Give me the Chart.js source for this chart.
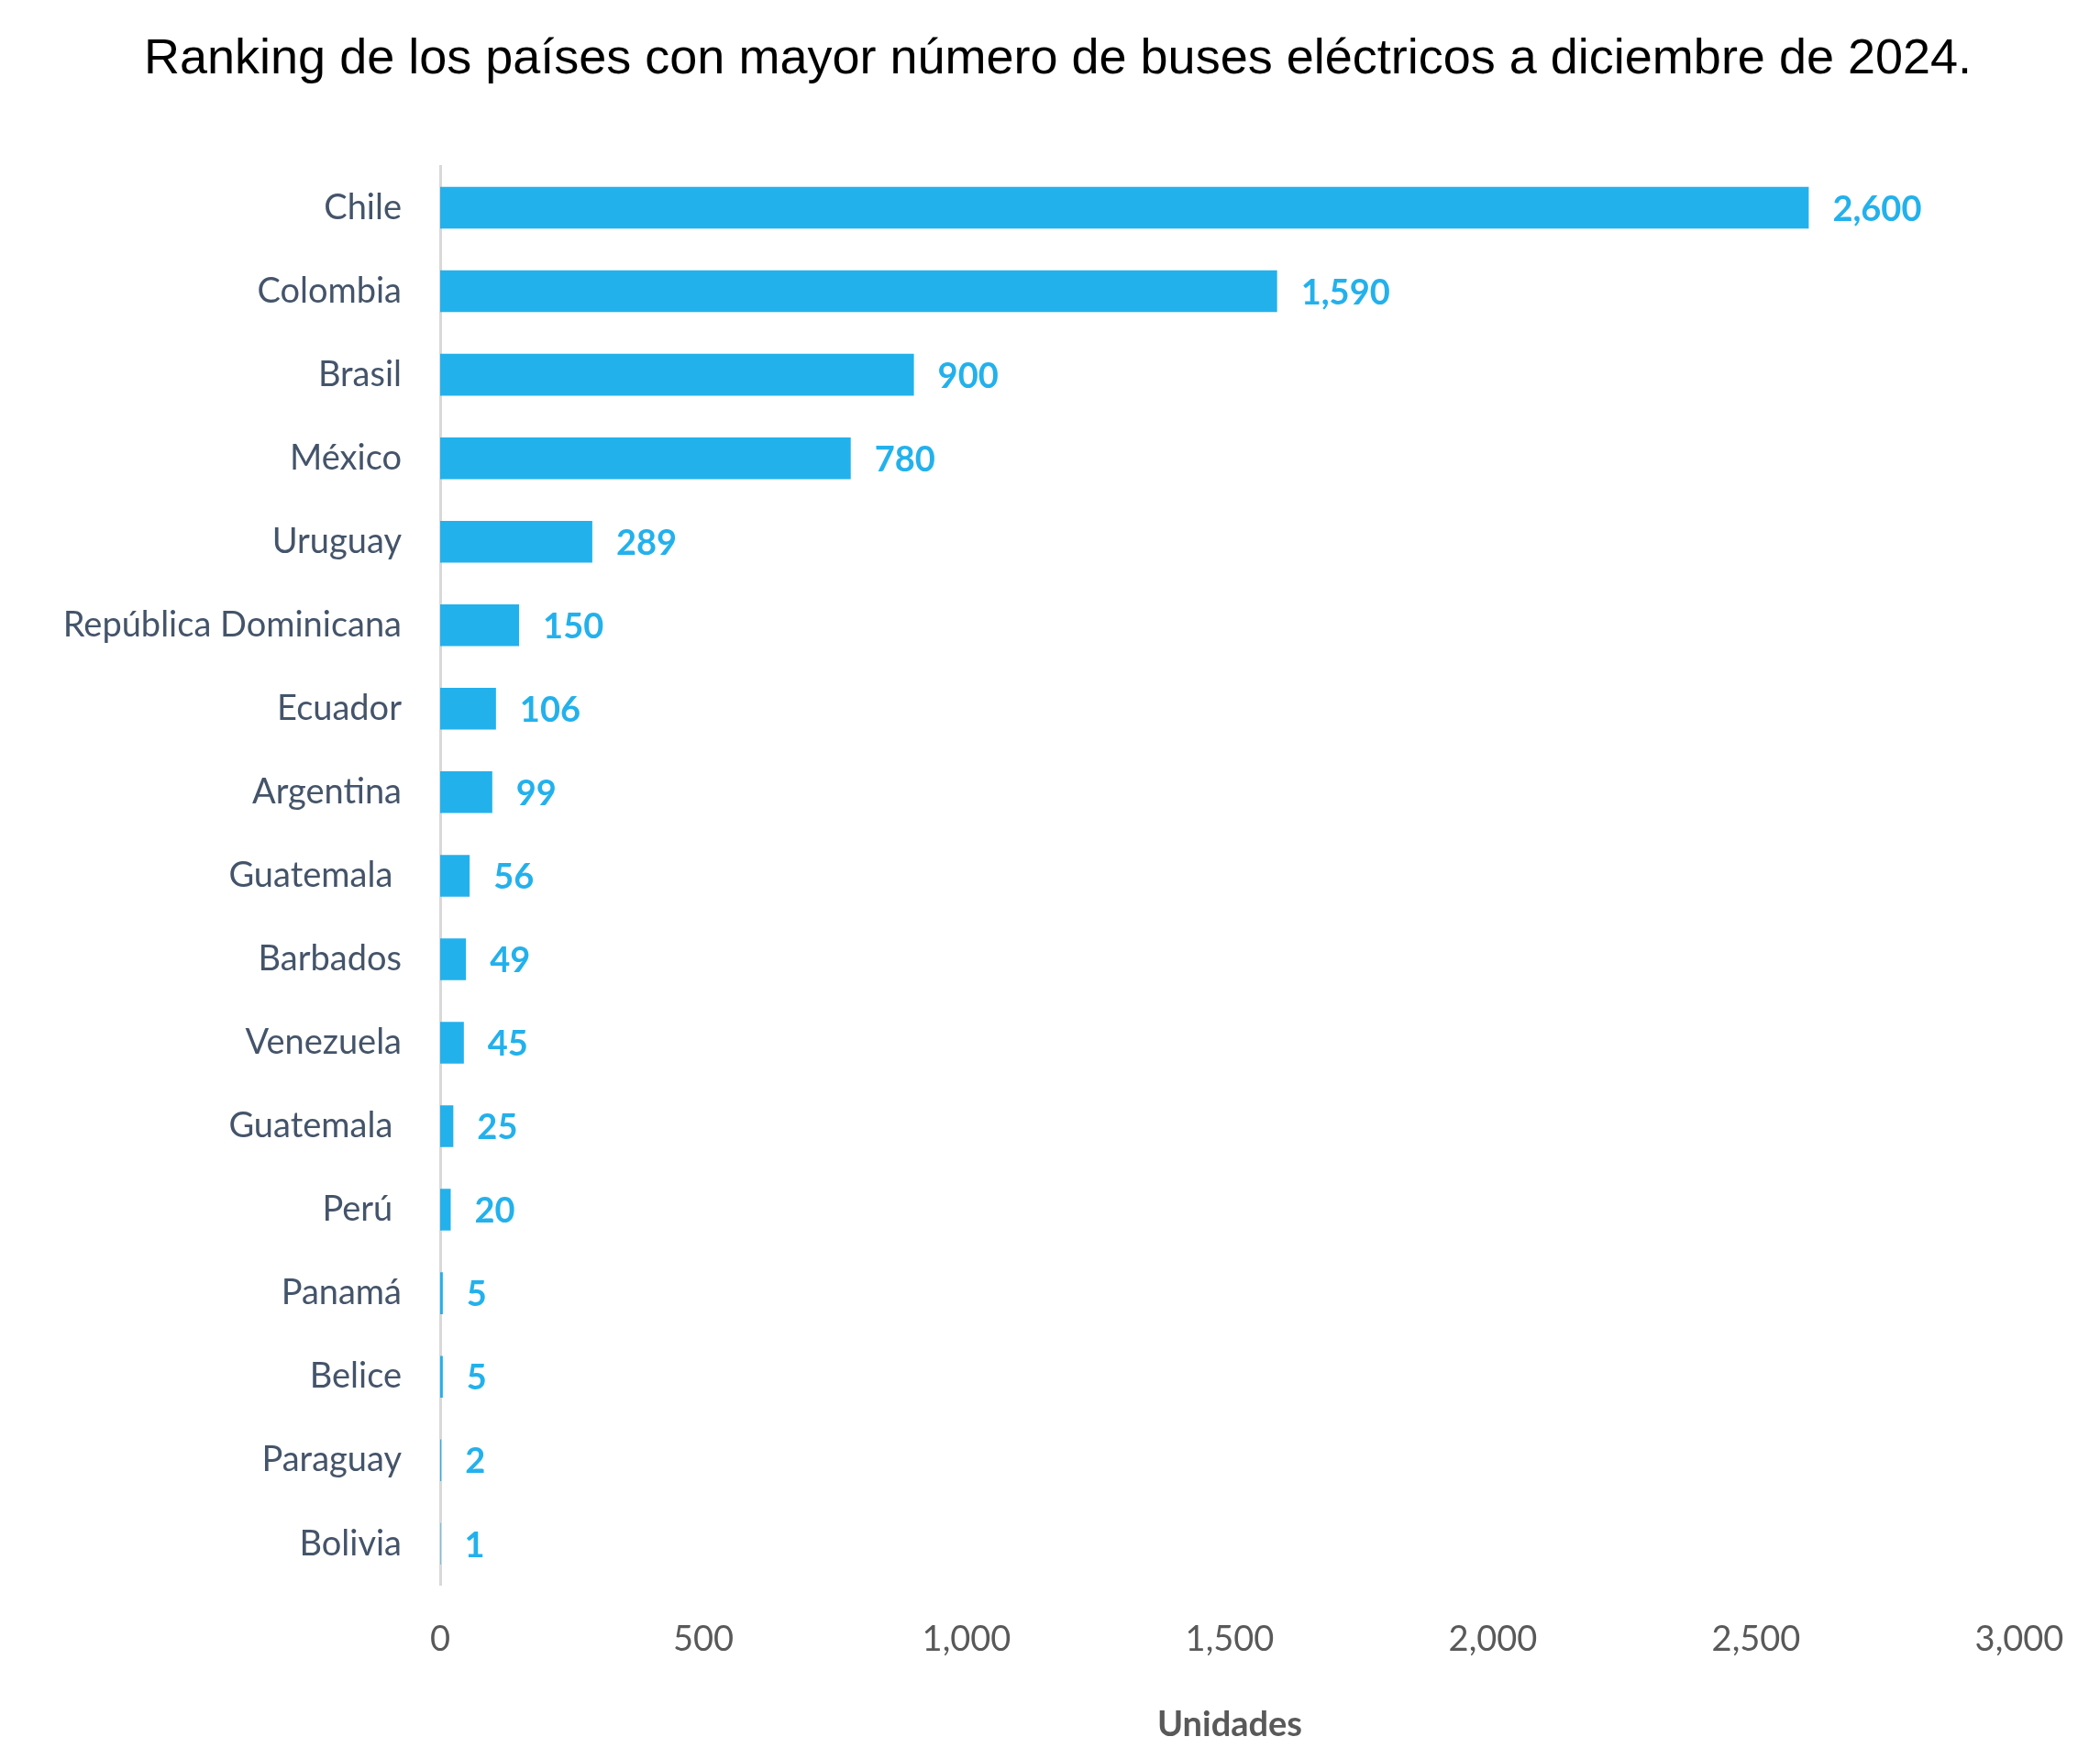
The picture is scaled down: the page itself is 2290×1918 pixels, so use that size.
<!DOCTYPE html>
<html><head><meta charset="utf-8">
<script src="https://cdn.jsdelivr.net/npm/chart.js@4"></script>
<style>
html,body{margin:0;padding:0;background:#fff;}
#t{position:absolute;left:157px;top:28px;width:2100px;font-family:"Liberation Sans",Arial,sans-serif;font-size:54px;line-height:66px;color:#000;}
#w{position:absolute;left:0;top:0;width:2290px;height:1918px;}
</style></head><body>
<div id="w"><canvas id="c" width="2290" height="1918"></canvas></div>
<div id="t">Ranking de los países con mayor número de buses eléctricos a diciembre de 2024.</div>
<script>
const categories=["Chile","Colombia","Brasil","México","Uruguay","República Dominicana","Ecuador","Argentina","Guatemala ","Barbados","Venezuela","Guatemala ","Perú ","Panamá","Belice","Paraguay","Bolivia"];
const values=[2600,1590,900,780,289,150,106,99,56,49,45,25,20,5,5,2,1];
const xTicks=[0,500,1000,1500,2000,2500,3000];
const barColor="#23b1ec";
const fontFam="Lato, 'Open Sans', sans-serif";
const labelPlugin={id:'lbl',afterDatasetsDraw(ch){const ctx=ch.ctx;const m=ch.getDatasetMeta(0);ctx.save();ctx.fillStyle=barColor;ctx.font="bold 38px "+fontFam;ctx.textBaseline="middle";m.data.forEach((b,i)=>{ctx.fillText(values[i].toLocaleString('en-US'),b.x+26,b.y+2);});ctx.restore();}};
new Chart(document.getElementById('c'),{type:'bar',
data:{labels:categories,datasets:[{data:values,backgroundColor:barColor,barPercentage:0.5,categoryPercentage:1}]},
options:{indexAxis:'y',responsive:false,animation:false,
layout:{padding:{top:181,right:88,bottom:10,left:0}},
plugins:{legend:{display:false},tooltip:{enabled:false}},
scales:{
y:{afterFit(a){a.width=480;},grid:{display:false,drawTicks:false},border:{display:true,color:'#d9d9d9',width:3},
ticks:{color:'#44546a',font:{size:38,family:fontFam},padding:42}},
x:{min:0,max:3000,afterBuildTicks(a){a.ticks=xTicks.map(v=>({value:v}));},grid:{display:false},border:{display:false},
ticks:{color:'#595959',font:{size:38,family:fontFam},padding:28,maxRotation:0},
title:{display:true,text:'Unidades',color:'#595959',font:{size:38,weight:'bold',family:fontFam},padding:{top:20}}}
}},plugins:[labelPlugin]});
</script></body></html>
